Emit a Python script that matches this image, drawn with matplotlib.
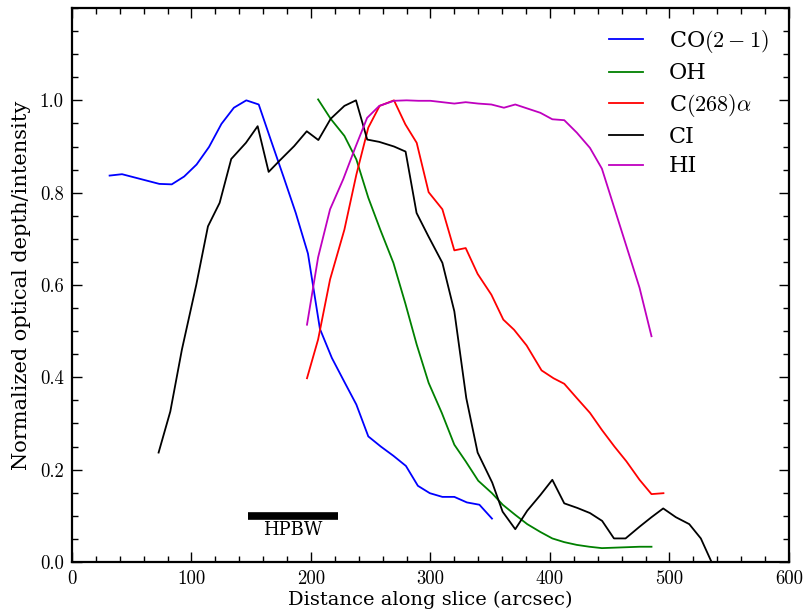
import matplotlib
matplotlib.use("Agg")
import matplotlib.pyplot as plt
from matplotlib.ticker import MultipleLocator

plt.rcParams["mathtext.fontset"] = "cm"
plt.rcParams["font.family"] = "DejaVu Serif"

# CO(2-1)
co_x = [31.5, 41.9, 52.3, 62.7, 73.1, 83.5, 93.9, 104.3, 114.7, 125.1, 135.5, 145.9,
        156.3, 166.7, 177.1, 187.3, 197.5, 207.5, 217.5, 228.0, 238.0, 248.0, 258.5,
        269.0, 279.5, 289.5, 299.5, 310.0, 320.0, 330.5, 341.0, 351.5]
co_y = [0.837, 0.840, 0.833, 0.826, 0.819, 0.818, 0.835, 0.861, 0.899, 0.949, 0.984, 1.000,
        0.991, 0.912, 0.834, 0.756, 0.668, 0.505, 0.442, 0.390, 0.341, 0.272, 0.250,
        0.230, 0.208, 0.165, 0.149, 0.141, 0.141, 0.129, 0.124, 0.094]

# OH
oh_x = [206.0, 216.5, 228.0, 238.0, 248.0, 258.0, 269.0, 279.0, 288.5, 298.5, 309.5,
        320.0, 329.5, 340.0, 351.5, 360.5, 371.0, 381.0, 392.0, 402.0, 412.0, 422.5,
        433.0, 443.5, 454.0, 464.5, 475.0, 485.0]
oh_y = [1.002, 0.960, 0.923, 0.872, 0.789, 0.720, 0.648, 0.560, 0.471, 0.388, 0.323,
        0.254, 0.218, 0.176, 0.149, 0.124, 0.102, 0.082, 0.065, 0.051, 0.043, 0.037,
        0.033, 0.030, 0.031, 0.032, 0.033, 0.033]

# C(268)alpha
c_x = [196.7, 206.0, 216.0, 228.0, 238.0, 248.0, 257.5, 269.5, 279.0, 288.5, 298.5,
       310.0, 320.0, 329.5, 339.5, 351.0, 361.0, 370.0, 380.5, 393.0, 403.0, 412.0,
       422.5, 433.5, 443.5, 454.0, 464.0, 475.0, 485.0, 495.0]
c_y = [0.398, 0.482, 0.612, 0.720, 0.839, 0.941, 0.988, 1.000, 0.948, 0.908, 0.801,
       0.764, 0.675, 0.680, 0.624, 0.579, 0.525, 0.503, 0.469, 0.415, 0.398, 0.386,
       0.355, 0.323, 0.286, 0.250, 0.218, 0.178, 0.147, 0.149]

# CI
ci_x = [72.5, 82.3, 92.0, 104.0, 113.8, 123.6, 133.3, 145.6, 155.4, 164.6, 174.0,
        186.0, 196.5, 206.2, 216.5, 228.0, 237.7, 247.1, 257.2, 269.5, 279.2, 288.4,
        298.2, 310.0, 320.0, 330.0, 339.5, 351.7, 360.4, 371.0, 381.0, 392.0, 402.0,
        412.0, 423.0, 433.5, 443.7, 453.6, 463.3, 475.3, 485.0, 494.8, 505.4, 516.6,
        526.3, 537.0]
ci_y = [0.237, 0.326, 0.460, 0.600, 0.727, 0.778, 0.873, 0.908, 0.944, 0.845, 0.870,
        0.901, 0.933, 0.914, 0.960, 0.988, 1.000, 0.915, 0.910, 0.900, 0.889, 0.756,
        0.706, 0.648, 0.543, 0.355, 0.237, 0.172, 0.109, 0.071, 0.111, 0.145, 0.178,
        0.127, 0.117, 0.106, 0.089, 0.051, 0.051, 0.077, 0.097, 0.116, 0.097, 0.082,
        0.051, -0.010]

# HI
hi_x = [196.7, 206.0, 216.0, 227.0, 237.0, 247.0, 257.2, 269.5, 280.0, 290.0, 300.0,
        310.0, 320.0, 329.5, 340.0, 351.0, 361.5, 371.0, 381.5, 392.0, 402.0, 412.0,
        422.5, 433.5, 443.5, 454.0, 464.5, 475.0, 485.0]
hi_y = [0.514, 0.660, 0.764, 0.829, 0.897, 0.962, 0.988, 0.999, 1.000, 0.999, 0.999,
        0.996, 0.993, 0.996, 0.993, 0.991, 0.984, 0.991, 0.982, 0.973, 0.959, 0.957,
        0.930, 0.897, 0.852, 0.766, 0.680, 0.594, 0.489]

hpbw_x = [147, 223]
hpbw_y = [0.10, 0.10]

fig = plt.figure(figsize=(8.05, 6.16), dpi=100)
ax = fig.add_axes([0.0894, 0.0877, 0.8906, 0.8993])

lw = 1.3
ax.plot(co_x, co_y, color="#0000ff", lw=lw, label=r"CO$(2-1)$")
ax.plot(oh_x, oh_y, color="#008000", lw=lw, label="OH")
ax.plot(c_x, c_y, color="#ff0000", lw=lw, label=r"C$(268)\alpha$")
ax.plot(ci_x, ci_y, color="#000000", lw=lw, label="CI")
ax.plot(hi_x, hi_y, color="#bf00bf", lw=lw, label="HI")

ax.plot(hpbw_x, hpbw_y, color="black", lw=5.5, solid_capstyle="butt")
ax.text(sum(hpbw_x) / 2, 0.088, "HPBW", ha="center", va="top", fontsize=13)

ax.set_xlim(0, 600)
ax.set_ylim(0, 1.2)
ax.xaxis.set_major_locator(MultipleLocator(100))
ax.xaxis.set_minor_locator(MultipleLocator(20))
ax.yaxis.set_major_locator(MultipleLocator(0.2))
ax.yaxis.set_minor_locator(MultipleLocator(0.05))
ax.set_yticks([0.0, 0.2, 0.4, 0.6, 0.8, 1.0])
ax.set_yticklabels(["0.0", "0.2", "0.4", "0.6", "0.8", "1.0"])
ax.tick_params(which="both", direction="in", top=True, right=True, width=1.0)
ax.tick_params(which="major", length=7, labelsize=13.5, pad=6)
ax.tick_params(which="minor", length=4)
for lbl in ax.get_xticklabels() + ax.get_yticklabels():
    lbl.set_fontfamily("cmr10")
for sp in ax.spines.values():
    sp.set_linewidth(1.6)

ax.set_xlabel("Distance along slice (arcsec)", fontsize=14, labelpad=2)
ax.set_ylabel("Normalized optical depth/intensity", fontsize=15, labelpad=6)

ax.legend(loc="upper right", frameon=False, fontsize=16, handlelength=1.5,
          handletextpad=1.2, labelspacing=0.33, borderaxespad=0.5)

fig.savefig("out.png", dpi=100)
